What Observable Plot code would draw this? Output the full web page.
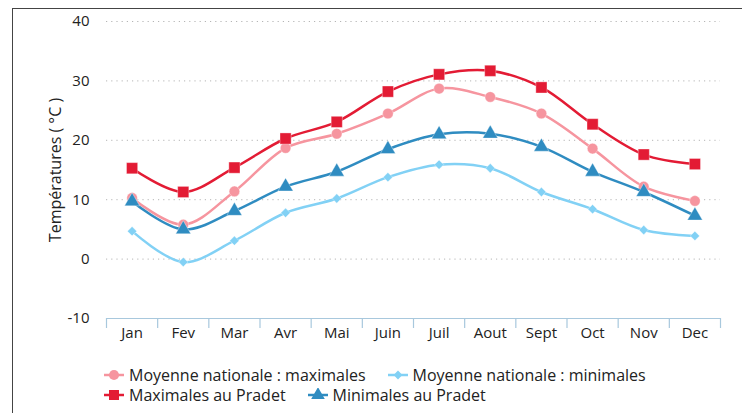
<!DOCTYPE html>
<html>
<head>
<meta charset="utf-8">
<script src="https://cdn.jsdelivr.net/npm/d3@7"></script>
<script src="https://cdn.jsdelivr.net/npm/@observablehq/plot@0.6"></script>
<style>
  html, body { margin: 0; padding: 0; background: #fff; }
  #wrap { position: relative; width: 742px; height: 413px; overflow: hidden; font-family: "Open Sans", sans-serif; color: #222; }
  #frame { position: absolute; left: 12px; top: 8px; right: -2px; bottom: -2px; border-left: 1.5px solid #444; border-top: 1.5px solid #444; }
  #chart { position: absolute; left: 0; top: 0; }
  #ylabel { position: absolute; left: 55px; top: 170px; transform: translate(-50%, -50%) rotate(-90deg); white-space: nowrap; font-size: 16px; line-height: 20px; color: #222; }
  #legend { position: absolute; left: 104px; top: 365px; width: 580px; display: flex; flex-wrap: wrap; column-gap: 22px; row-gap: 0px; font-size: 16px; line-height: 20px; }
  .item { display: flex; align-items: center; white-space: nowrap; }
  .item svg { margin-right: 5px; }
</style>
</head>
<body>
<div id="wrap">
  <div id="frame"></div>
  <div id="chart"></div>
  <div id="ylabel"></div>
  <div id="legend"></div>
</div>
<script>
// ---- Data ----
const months = ["Jan","Fev","Mar","Avr","Mai","Juin","Juil","Aout","Sept","Oct","Nov","Dec"];
const nationalMax = [10.3, 5.8, 11.4, 18.7, 21.1, 24.5, 28.7, 27.3, 24.5, 18.6, 12.2, 9.8];
const nationalMin = [4.7, -0.5, 3.1, 7.8, 10.2, 13.8, 15.9, 15.3, 11.3, 8.4, 4.9, 3.9];
const pradetMax = [15.3, 11.3, 15.4, 20.3, 23.1, 28.2, 31.1, 31.7, 28.9, 22.7, 17.6, 16.0];
const pradetMin = [9.7, 5.0, 8.1, 12.2, 14.7, 18.5, 21.0, 21.1, 18.9, 14.7, 11.3, 7.3];
const yTicks = [-10, 0, 10, 20, 30, 40];
const yLabel = "Températures ( °C )";
const seriesNames = ["Moyenne nationale : maximales", "Moyenne nationale : minimales", "Maximales au Pradet", "Minimales au Pradet"];

// ---- Styles ----
const colors = {nmax: "#f6959f", nmin: "#82d1f5", pmax: "#e31b34", pmin: "#2f8cc1"};
const axisColor = "#a8c8dd";

const idx = months.map((m, i) => i);
const table = months.map((m, i) => ({i, month: m, nmax: nationalMax[i], nmin: nationalMin[i], pmax: pradetMax[i], pmin: pradetMin[i]}));
const boundaries = d3.range(-0.5, 12, 1);

const series = [
  {key: "nmin", symbol: "diamond2", r: 4.2},
  {key: "nmax", symbol: "circle", r: 5.3},
  {key: "pmin", symbol: "triangle", r: 5.6},
  {key: "pmax", symbol: "square", r: 6.3}
];

const marks = [
  Plot.gridY([0, 10, 20, 30, 40], {stroke: "#b5b5b5", strokeOpacity: 1, strokeDasharray: "1.2,4"}),
  Plot.axisY(yTicks, {tickSize: 0, tickPadding: 17, fontSize: 15, fill: "#222", tickFormat: d => String(d), label: null}),
  Plot.ruleY([-10], {stroke: axisColor, strokeWidth: 1.2}),
  Plot.axisX(boundaries, {tickSize: 10, tickFormat: () => "", stroke: axisColor, strokeWidth: 1.2, strokeOpacity: 1, label: null}),
  Plot.axisX(idx, {tickSize: 0, tickPadding: 9, tickFormat: i => months[i], fontSize: 15, fill: "#222", label: null})
];
for (const s of series) {
  marks.push(Plot.line(table, {x: "i", y: s.key, stroke: colors[s.key], strokeWidth: 2.5, curve: "catmull-rom"}));
  marks.push(Plot.dot(table, {x: "i", y: s.key, symbol: s.symbol, r: s.r, fill: colors[s.key], stroke: "white", strokeWidth: 0.6, strokeOpacity: 0.6}));
}

const chart = Plot.plot({
  width: 742, height: 350,
  marginLeft: 106, marginRight: 22, marginTop: 21, marginBottom: 32,
  style: {fontFamily: "'Open Sans', sans-serif", fontSize: "16px", color: "#222", background: "transparent", overflow: "visible"},
  x: {domain: [-0.5, 11.5]},
  y: {domain: [-10, 40]},
  marks
});
document.getElementById("chart").appendChild(chart);
document.getElementById("ylabel").textContent = yLabel;

// ---- Legend ----
const legendOrder = [
  {key: "nmax", symbol: d3.symbolCircle, size: 80, name: seriesNames[0]},
  {key: "nmin", symbol: d3.symbolDiamond2, size: 50, name: seriesNames[1]},
  {key: "pmax", symbol: d3.symbolSquare, size: 100, name: seriesNames[2]},
  {key: "pmin", symbol: d3.symbolTriangle, size: 80, name: seriesNames[3]}
];
const legend = d3.select("#legend");
for (const s of legendOrder) {
  const item = legend.append("div").attr("class", "item");
  const svg = item.append("svg").attr("width", 20).attr("height", 14);
  svg.append("line").attr("x1", 0).attr("x2", 20).attr("y1", 7).attr("y2", 7).attr("stroke", colors[s.key]).attr("stroke-width", 2.5);
  svg.append("path").attr("transform", "translate(10,7)").attr("d", d3.symbol(s.symbol, s.size)()).attr("fill", colors[s.key]);
  item.append("span").text(s.name);
}
</script>
</body>
</html>
